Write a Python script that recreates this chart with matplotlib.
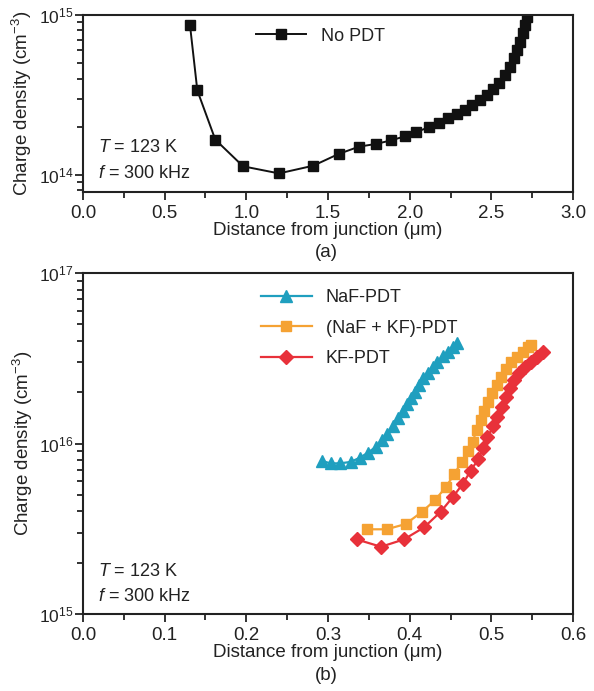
import matplotlib
matplotlib.use("Agg")
import matplotlib.pyplot as plt
from matplotlib.ticker import LogLocator, MultipleLocator, NullFormatter

plt.rcParams["font.family"] = ["Liberation Sans", "DejaVu Sans"]
plt.rcParams["mathtext.fontset"] = "custom"
plt.rcParams["mathtext.rm"] = "Liberation Sans"
plt.rcParams["mathtext.it"] = "Liberation Sans:italic"

# (a) No PDT
x_nopdt = [0.655, 0.70, 0.81, 0.98, 1.20, 1.41, 1.565, 1.69, 1.794, 1.884, 1.97,
           2.04, 2.12, 2.182, 2.237, 2.288, 2.339, 2.380, 2.431, 2.476, 2.513,
           2.549, 2.584, 2.615, 2.639, 2.660, 2.676, 2.693, 2.707, 2.721]
y_nopdt = [8.66e14, 3.37e14, 1.66e14, 1.13e14, 1.02e14, 1.14e14, 1.35e14, 1.50e14,
           1.56e14, 1.64e14, 1.74e14, 1.85e14, 1.99e14, 2.12e14, 2.26e14, 2.41e14,
           2.55e14, 2.74e14, 2.94e14, 3.16e14, 3.43e14, 3.78e14, 4.22e14, 4.75e14,
           5.36e14, 6.04e14, 6.81e14, 7.69e14, 8.66e14, 9.77e14]

# (b) NaF-PDT
x_naf = [0.2923, 0.3033, 0.3147, 0.3278, 0.339, 0.349, 0.3588, 0.3657, 0.3726,
         0.380, 0.386, 0.3914, 0.3963, 0.4016, 0.4065, 0.4118, 0.4167, 0.422,
         0.428, 0.4338, 0.441, 0.4473, 0.4534, 0.4575]
y_naf = [7.9e15, 7.65e15, 7.65e15, 7.8e15, 8.26e15, 8.84e15, 9.58e15, 1.05e16,
         1.14e16, 1.26e16, 1.41e16, 1.56e16, 1.71e16, 1.84e16, 2.01e16, 2.20e16,
         2.41e16, 2.60e16, 2.82e16, 3.02e16, 3.26e16, 3.45e16, 3.70e16, 3.87e16]

# (NaF + KF)-PDT
x_nakf = [0.348, 0.3718, 0.395, 0.4146, 0.431, 0.4441, 0.4547, 0.4636, 0.4718,
          0.477, 0.482, 0.487, 0.4915, 0.4963, 0.501, 0.5065, 0.5118, 0.5176,
          0.524, 0.531, 0.5384, 0.5453, 0.549]
y_nakf = [3.14e15, 3.14e15, 3.37e15, 3.96e15, 4.65e15, 5.54e15, 6.62e15, 7.82e15,
          9.1e15, 1.02e16, 1.20e16, 1.37e16, 1.55e16, 1.76e16, 1.97e16, 2.2e16,
          2.47e16, 2.72e16, 2.99e16, 3.23e16, 3.45e16, 3.70e16, 3.79e16]

# KF-PDT
x_kf = [0.335, 0.3649, 0.393, 0.4175, 0.438, 0.4526, 0.4648, 0.4747, 0.484, 0.490,
        0.495, 0.5025, 0.5074, 0.5127, 0.518, 0.523, 0.528, 0.534, 0.541, 0.548,
        0.5555, 0.5636]
y_kf = [2.74e15, 2.48e15, 2.74e15, 3.22e15, 3.98e15, 4.84e15, 5.78e15, 6.92e15,
        8.1e15, 9.4e15, 1.09e16, 1.26e16, 1.43e16, 1.64e16, 1.88e16, 2.11e16,
        2.36e16, 2.60e16, 2.82e16, 3.02e16, 3.23e16, 3.45e16]

fig = plt.figure(figsize=(5.94, 6.91), dpi=100)
ax1 = fig.add_axes([0.1397, 0.7221, 0.825, 0.2562])
ax2 = fig.add_axes([0.1397, 0.1114, 0.825, 0.4935])

ax1.plot(x_nopdt, y_nopdt, color="#111111", lw=1.4, marker="s", ms=6.5,
         label="No PDT")
ax2.plot(x_naf, y_naf, color="#1f9fbf", lw=1.6, marker="^", ms=8,
         label="NaF-PDT")
ax2.plot(x_nakf, y_nakf, color="#f5a233", lw=1.6, marker="s", ms=7.5,
         label="(NaF + KF)-PDT")
ax2.plot(x_kf, y_kf, color="#e8313a", lw=1.6, marker="D", ms=7,
         label="KF-PDT")

ax1.set_xlim(0, 3.0)
ax1.set_ylim(7.8e13, 1e15)
ax2.set_xlim(0, 0.6)
ax2.set_ylim(1e15, 1e17)

# same axis styling for both panels
for ax, major, minor in [(ax1, 0.5, 0.25), (ax2, 0.1, 0.05)]:
    ax.set_yscale("log")
    ax.xaxis.set_major_locator(MultipleLocator(major))
    ax.xaxis.set_minor_locator(MultipleLocator(minor))
    ax.yaxis.set_major_locator(LogLocator(base=10, numticks=10))
    ax.yaxis.set_minor_locator(LogLocator(base=10, subs=range(2, 10), numticks=20))
    ax.yaxis.set_minor_formatter(NullFormatter())
    ax.xaxis.set_major_formatter(plt.FormatStrFormatter("%.1f"))
    for s in ax.spines.values():
        s.set_linewidth(1.5)
        s.set_color("#222222")
    ax.tick_params(which="both", direction="out", top=False, right=False,
                   width=1.3, color="#222222")
    ax.tick_params(which="major", length=6)
    ax.tick_params(which="minor", length=4)
    ax.tick_params(axis="x", labelsize=13.5, pad=3, labelcolor="#222222")
    ax.tick_params(axis="y", labelsize=12.5, pad=1, labelcolor="#222222")
    ax.set_xlabel("Distance from junction (μm)", fontsize=13.5, labelpad=0,
                  color="#222222")
    ax.set_ylabel("Charge density (cm$^{-3}$)", fontsize=13.5, labelpad=3,
                  color="#222222")

ax1.text(0.03, 0.25, "$\\it{T}$ = 123 K", transform=ax1.transAxes, fontsize=13,
         va="center", color="#222222")
ax1.text(0.03, 0.105, "$\\it{f}$ = 300 kHz", transform=ax1.transAxes, fontsize=13,
         va="center", color="#222222")
ax2.text(0.03, 0.125, "$\\it{T}$ = 123 K", transform=ax2.transAxes, fontsize=13,
         va="center", color="#222222")
ax2.text(0.03, 0.052, "$\\it{f}$ = 300 kHz", transform=ax2.transAxes, fontsize=13,
         va="center", color="#222222")

ax1.legend(loc="upper left", bbox_to_anchor=(0.33, 0.99), frameon=False,
           fontsize=13, handlelength=2.8, borderaxespad=0.2,
           labelcolor="#222222")
ax2.legend(loc="upper left", bbox_to_anchor=(0.33, 1.0), frameon=False,
           fontsize=13, handlelength=2.8, labelspacing=0.75,
           labelcolor="#222222")

fig.text(0.55, 0.634, "(a)", fontsize=13.5, ha="center", va="center",
         color="#222222")
fig.text(0.55, 0.023, "(b)", fontsize=13.5, ha="center", va="center",
         color="#222222")

fig.savefig("out.png", dpi=100)
